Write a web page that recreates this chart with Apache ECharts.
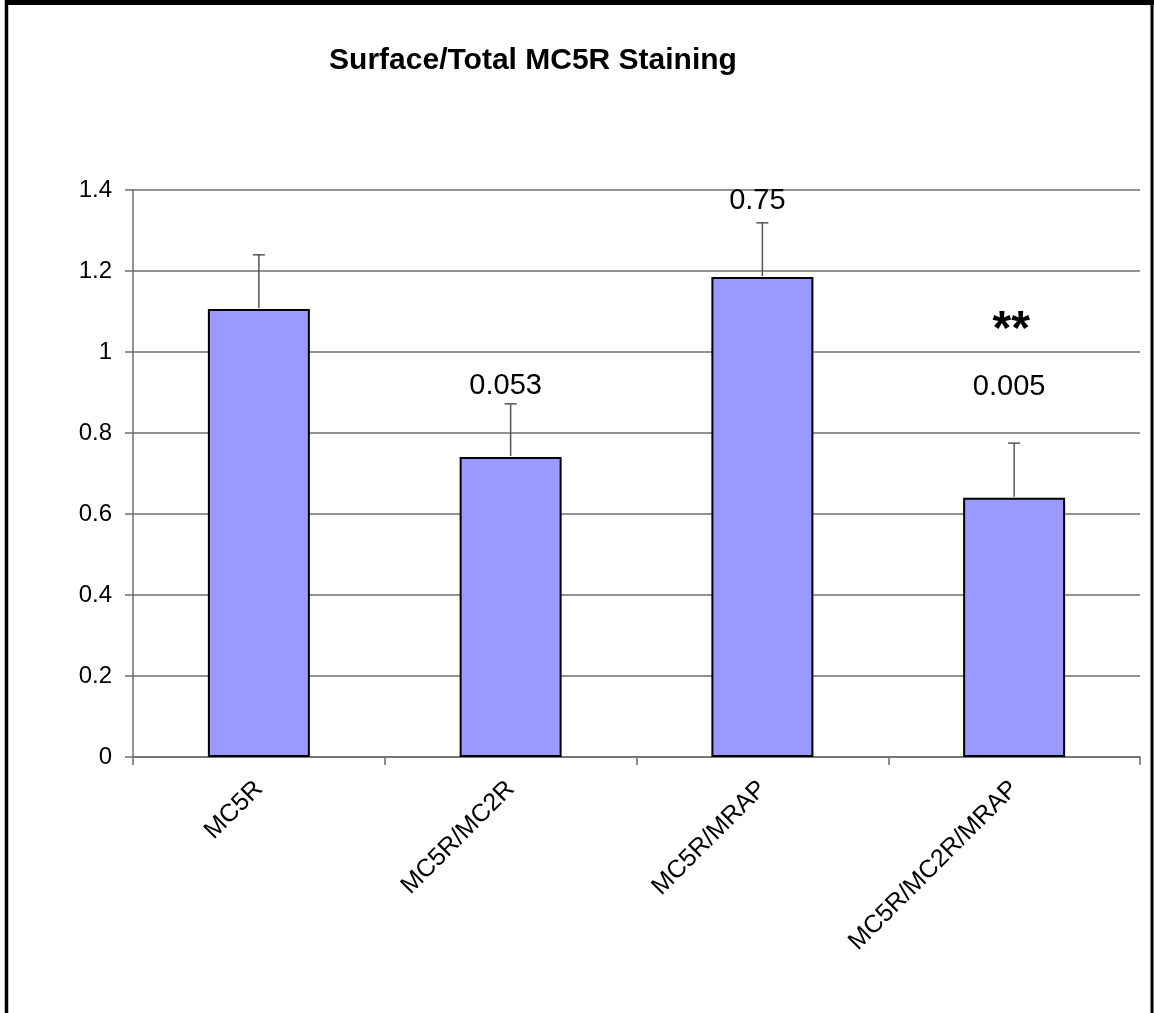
<!DOCTYPE html>
<html>
<head>
<meta charset="utf-8">
<script src="https://cdn.jsdelivr.net/npm/echarts@6/dist/echarts.min.js"></script>
<style>
html,body{margin:0;padding:0;background:#fff;}
#chart{width:1154px;height:1013px;}
</style>
</head>
<body>
<div id="chart"></div>
<script>
// ---- data ----
const categories = ['MC5R', 'MC5R/MC2R', 'MC5R/MRAP', 'MC5R/MC2R/MRAP'];
const means = [1.106, 0.741, 1.185, 0.640];
const errorsUp = [0.134, 0.131, 0.134, 0.135];
const pLabels = ['', '0.053', '0.75', '0.005'];
const pLabelY = [null, 0.916, 1.373, 0.914];
const starLabels = ['', '', '', '**'];
const starLabelY = [null, null, null, 1.074];
const yTicks = { min: 0, max: 1.4, interval: 0.2 };

const chart = echarts.init(document.getElementById('chart'));
const FONT = '"Liberation Sans", Arial, sans-serif';
const gridColor = '#6e6e6e';

const errData = categories.map((c, i) => [i, means[i], means[i] + errorsUp[i]]);
const pData = categories.map((c, i) => [i, pLabelY[i], pLabels[i]]).filter(d => d[2]);
const starData = categories.map((c, i) => [i, starLabelY[i], starLabels[i]]).filter(d => d[2]);

chart.setOption({
  animation: false,
  backgroundColor: '#fff',
  title: {
    text: 'Surface/Total MC5R Staining',
    left: 528, top: 41,
    textAlign: 'center',
    textStyle: { fontFamily: FONT, fontWeight: 'bold', fontSize: 30, color: '#000' }
  },
  grid: { left: 133, right: 14, top: 190, bottom: 256, containLabel: false },
  xAxis: {
    type: 'category',
    data: categories,
    axisLine: { lineStyle: { color: gridColor, width: 1.5 } },
    axisTick: { show: true, length: 8, alignWithLabel: false, lineStyle: { color: gridColor, width: 1.5 } },
    axisLabel: { rotate: 45, margin: 28, fontFamily: FONT, fontSize: 25, color: '#000', interval: 0 },
    splitLine: { show: false }
  },
  yAxis: {
    type: 'value',
    min: yTicks.min, max: yTicks.max, interval: yTicks.interval,
    axisLine: { show: true, lineStyle: { color: gridColor, width: 1.5 } },
    axisTick: { show: true, inside: false, length: 8, lineStyle: { color: gridColor, width: 1.5 } },
    axisLabel: { margin: 21, fontFamily: FONT, fontSize: 24, color: '#000' },
    splitLine: { show: true, lineStyle: { color: gridColor, width: 1.5 } }
  },
  graphic: [
    { type: 'line', shape: { x1: 5, y1: 2.5, x2: 1154, y2: 2.5 }, style: { stroke: '#000', lineWidth: 5 }, silent: true, z: 100 },
    { type: 'line', shape: { x1: 6.5, y1: 0, x2: 6.5, y2: 1013 }, style: { stroke: '#000', lineWidth: 3.5 }, silent: true, z: 100 },
    { type: 'line', shape: { x1: 1152, y1: 0, x2: 1152, y2: 1013 }, style: { stroke: '#000', lineWidth: 3 }, silent: true, z: 100 }
  ],
  series: [
    {
      type: 'bar',
      data: means,
      barWidth: 102,
      itemStyle: { color: '#9999ff', borderColor: '#000', borderWidth: 2 },
      z: 2
    },
    {
      type: 'custom',
      data: errData,
      z: 3,
      renderItem: function (params, api) {
        const b = api.coord([api.value(0), api.value(1)]);
        const t = api.coord([api.value(0), api.value(2)]);
        const st = { stroke: '#555', lineWidth: 1.5 };
        return {
          type: 'group',
          children: [
            { type: 'line', shape: { x1: b[0], y1: b[1] - 1, x2: t[0], y2: t[1] }, style: st },
            { type: 'line', shape: { x1: t[0] - 6, y1: t[1], x2: t[0] + 6, y2: t[1] }, style: st }
          ]
        };
      }
    },
    {
      type: 'custom',
      data: pData,
      z: 4,
      renderItem: function (params, api) {
        const p = api.coord([api.value(0), api.value(1)]);
        return { type: 'text', x: p[0] - 5, y: p[1],
          style: { text: pData[params.dataIndex][2], font: 'normal 29px ' + FONT, fill: '#000', align: 'center', verticalAlign: 'middle' } };
      }
    },
    {
      type: 'custom',
      data: starData,
      z: 4,
      renderItem: function (params, api) {
        const p = api.coord([api.value(0), api.value(1)]);
        return { type: 'text', x: p[0] - 3, y: p[1] + 9,
          style: { text: starData[params.dataIndex][2], font: 'bold 48px ' + FONT, fill: '#000', align: 'center', verticalAlign: 'middle' } };
      }
    }
  ]
});
</script>
</body>
</html>
